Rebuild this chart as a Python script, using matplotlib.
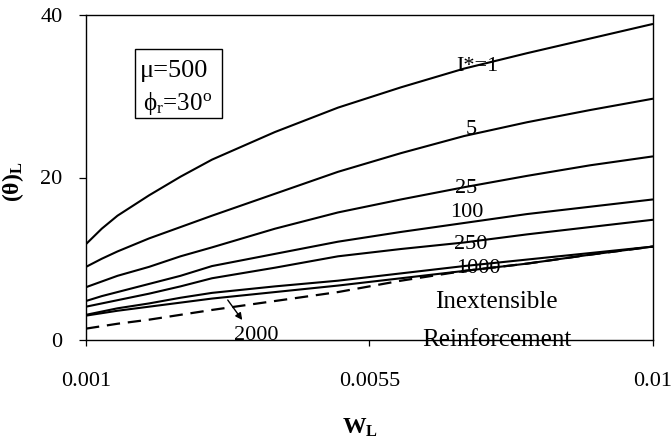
import matplotlib
matplotlib.use("Agg")
import matplotlib.pyplot as plt
from matplotlib.patches import Rectangle

plt.rcParams["font.family"] = ["Liberation Serif", "DejaVu Serif"]
plt.rcParams["mathtext.fontset"] = "custom"
plt.rcParams["mathtext.rm"] = "Liberation Serif"
plt.rcParams["mathtext.it"] = "Liberation Serif:italic"
plt.rcParams["mathtext.bf"] = "Liberation Serif:bold"

# Normalised wall displacement W_L
w_l = [0.001, 0.00125, 0.0015, 0.002, 0.0025, 0.003, 0.004,
       0.005, 0.006, 0.007, 0.008, 0.009, 0.010]

# Rotation (theta)_L for each relative stiffness I*
theta_i1 = [11.8, 13.7, 15.3, 17.8, 20.1, 22.2, 25.6, 28.6, 31.1, 33.4, 35.3, 37.1, 38.9]
theta_i5 = [9.0, 10.0, 10.9, 12.5, 13.9, 15.3, 18.0, 20.7, 23.0, 25.1, 26.8, 28.3, 29.7]
theta_i25 = [6.5, 7.2, 7.9, 9.0, 10.3, 11.4, 13.7, 15.7, 17.3, 18.8, 20.2, 21.5, 22.6]
theta_i100 = [4.8, 5.4, 5.9, 6.9, 7.9, 9.1, 10.6, 12.1, 13.3, 14.4, 15.5, 16.4, 17.3]
theta_i250 = [4.1, 4.5, 4.9, 5.7, 6.6, 7.6, 8.9, 10.3, 11.2, 12.0, 13.0, 13.9, 14.8]
theta_i1000 = [3.1, 3.5, 3.9, 4.5, 5.2, 5.8, 6.6, 7.3, 8.2, 9.1, 9.9, 10.7, 11.5]
theta_i2000 = [3.0, 3.3, 3.6, 4.1, 4.6, 5.1, 5.9, 6.7, 7.6, 8.5, 9.4, 10.5, 11.5]
theta_inext = [1.4, 1.7, 2.0, 2.5, 3.1, 3.7, 4.8, 5.9, 7.3, 8.5, 9.4, 10.5, 11.5]

solid_series = [theta_i1, theta_i5, theta_i25, theta_i100,
                theta_i250, theta_i1000, theta_i2000]

x_ticks = [0.001, 0.0055, 0.01]
x_tick_labels = ["0.001", "0.0055", "0.01"]
y_ticks = [0, 20, 40]
y_tick_labels = ["0", "20", "40"]

fig = plt.figure(figsize=(6.72, 4.43), dpi=100)
ax = fig.add_axes([86 / 672, 1 - 340 / 443, 567 / 672, 325 / 443])

for series in solid_series:
    ax.plot(w_l, series, color="black", lw=1.5, solid_capstyle="butt")
ax.plot(w_l, theta_inext, color="black", lw=1.6, dashes=(6, 3.5))

ax.set_xlim(0.001, 0.01)
ax.set_ylim(0, 40)
ax.set_xticks(x_ticks)
ax.set_xticklabels(x_tick_labels)
ax.set_yticks(y_ticks)
ax.set_yticklabels(y_tick_labels)
ax.tick_params(axis="y", direction="out", length=5, width=0.9, pad=12, labelsize=16)
ax.tick_params(axis="x", direction="out", length=4, width=0.9, pad=19, labelsize=16)
for sp in ax.spines.values():
    sp.set_linewidth(1.0)
    sp.set_color("black")

ax.set_xlabel(r"$\mathbf{W_L}$", fontsize=17)
ax.xaxis.set_label_coords(0.483, -0.235)
fig.text(13 / 672, 1 - 182 / 443, r"$\mathbf{(\theta)_L}$", fontsize=17,
         rotation=90, ha="center", va="center")

# Curve labels
label_kw = dict(ha="center", va="center", fontsize=16, color="black")
ax.text(0.00721, 33.7, "I*=1", **label_kw)
ax.text(0.00711, 25.85, "5", **label_kw)
ax.text(0.00703, 18.7, "25", **label_kw)
ax.text(0.00705, 15.75, "100", **label_kw)
ax.text(0.00710, 11.7, "250", **label_kw)
ax.text(0.00722, 8.86, "1000", **label_kw)
ax.text(0.00371, 0.6, "2000", clip_on=False, **label_kw)
ax.text(0.00752, 4.68, "Inextensible", ha="center", va="center", fontsize=18)
ax.text(0.00752, 0.05, "Reinforcement", ha="center", va="center",
        fontsize=18, clip_on=False)

ax.annotate("", xy=(0.00348, 2.46), xytext=(0.00325, 4.92),
            arrowprops=dict(arrowstyle="-|>", color="black", lw=1.0,
                            mutation_scale=10, shrinkA=0, shrinkB=0))

# Parameter box
ax.add_patch(Rectangle((0.0864, 0.683), 0.1535, 0.212, transform=ax.transAxes,
                       fill=False, edgecolor="black", lw=1.0))
ax.text(0.155, 0.828, "μ=500", transform=ax.transAxes, ha="center",
        va="center", fontsize=19)
ax.text(0.162, 0.729, r"$\mathrm{\phi_r}$=30$^\mathrm{o}$", transform=ax.transAxes,
        ha="center", va="center", fontsize=18)

fig.savefig("out.png", dpi=100)
